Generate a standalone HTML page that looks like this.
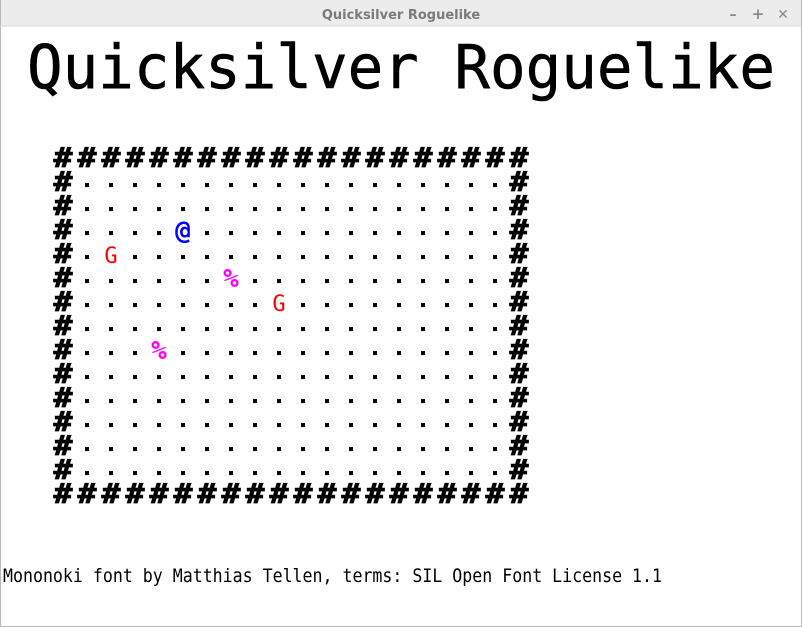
<!DOCTYPE html>
<html><head><meta charset="utf-8"><style>
html,body{margin:0;padding:0;background:#fff;width:802px;height:627px;overflow:hidden}
svg{display:block}
</style></head><body>
<svg width="802" height="627" xmlns="http://www.w3.org/2000/svg">
<rect x="0" y="0" width="802" height="627" fill="#fff" stroke="#b8b8b8" stroke-width="2"/>
<rect x="1" y="0" width="800" height="26" fill="#ececec"/>
<line x1="0" y1="26" x2="802" y2="26" stroke="#dadada"/>
<text x="401" y="19" text-anchor="middle" font-family="DejaVu Sans, Liberation Sans, sans-serif" font-weight="bold" font-size="13" fill="#7a7a7a">Quicksilver Roguelike</text>
<text x="733" y="19" text-anchor="middle" font-family="DejaVu Sans, sans-serif" font-size="14" font-weight="bold" fill="#8a8a8a">–</text>
<text x="758" y="19" text-anchor="middle" font-family="DejaVu Sans, sans-serif" font-size="15" font-weight="bold" fill="#8a8a8a">+</text>
<text x="783" y="19" text-anchor="middle" font-family="DejaVu Sans, sans-serif" font-size="14" font-weight="bold" fill="#8a8a8a">✕</text>
<text x="27" y="88" font-family="DejaVu Sans Mono, Liberation Mono, monospace" font-size="61" textLength="748" lengthAdjust="spacingAndGlyphs" fill="#000" stroke="#000" stroke-width="0.6">Quicksilver Roguelike</text>
<g id="map"></g>
<text x="3" y="582" font-family="DejaVu Sans Mono, Liberation Mono, monospace" font-size="19" textLength="659" lengthAdjust="spacingAndGlyphs" fill="#000">Mononoki font by Matthias Tellen, terms: SIL Open Font License 1.1</text>
</svg>
<script>
const cols = 20, rows = 15;
const entityChars = ['@', 'G', '%', 'G', '%'];
const entityCols = [5, 2, 7, 9, 4];
const entityRows = [3, 4, 5, 6, 8];
const entityColors = ['#0000ff', '#ff0000', '#ff00ff', '#ff0000', '#ff00ff'];
const entityNames = ['player', 'goblin', 'item', 'goblin', 'item'];
const NS = 'http://www.w3.org/2000/svg';
const g = document.getElementById('map');
function cx(c){return 63 + 24*c;}
function cy(r){return 157 + 24*r;}
const occupied = {};
entityChars.forEach((ch,i)=>{occupied[entityRows[i]+','+entityCols[i]]=i;});
for (let r=0;r<rows;r++){
  for (let c=0;c<cols;c++){
    const wall = r===0||r===rows-1||c===0||c===cols-1;
    const key=r+','+c;
    if (wall){
      const t=document.createElementNS(NS,'text');
      t.setAttribute('x',cx(c)-9.5);t.setAttribute('y',cy(r)+10);
      t.setAttribute('font-family','DejaVu Sans Mono, monospace');
      t.setAttribute('font-weight','bold');
      t.setAttribute('font-size','28');
      t.setAttribute('textLength','19');
      t.setAttribute('lengthAdjust','spacingAndGlyphs');
      t.setAttribute('stroke','#000');
      t.setAttribute('stroke-width','0.8');
      t.textContent='#';
      
      
      g.appendChild(t);
    } else if (key in occupied){
      const i=occupied[key];
      const t=document.createElementNS(NS,'text');
      const isG = entityChars[i]==='G';
      t.setAttribute('x',cx(c));t.setAttribute('y',cy(r)+(isG?10:10));
      t.setAttribute('text-anchor','middle');
      t.setAttribute('font-family','DejaVu Sans Mono, monospace');
      t.setAttribute('font-weight',isG?'normal':'bold');
      t.setAttribute('font-size',isG?'22':'26');
      t.setAttribute('fill',entityColors[i]);
      t.textContent=entityChars[i];
      
      
      g.appendChild(t);
    } else {
      const d=document.createElementNS(NS,'rect');
      d.setAttribute('x',cx(c)-2);d.setAttribute('y',cy(r)+2);
      d.setAttribute('width',4);d.setAttribute('height',4);
      
      
      g.appendChild(d);
    }
  }
}
</script>
</body></html>
